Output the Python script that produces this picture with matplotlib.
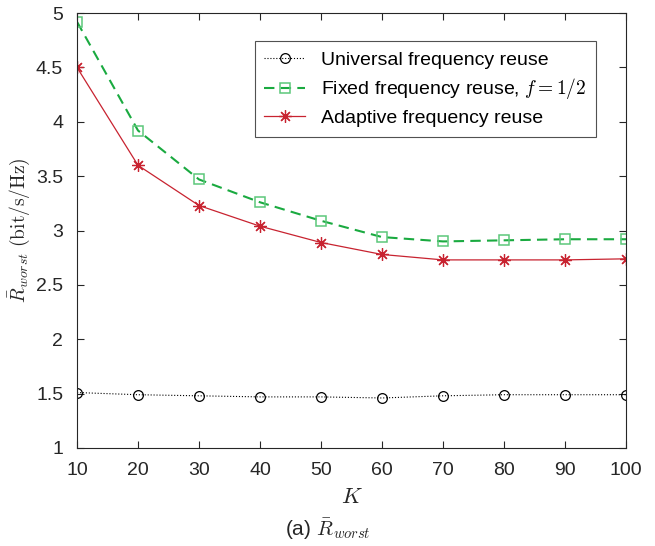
import matplotlib
matplotlib.use("Agg")
import matplotlib.pyplot as plt

K = [10, 20, 30, 40, 50, 60, 70, 80, 90, 100]
universal = [1.51, 1.49, 1.48, 1.47, 1.47, 1.46, 1.48, 1.49, 1.49, 1.49]
fixed = [4.92, 3.92, 3.47, 3.26, 3.09, 2.94, 2.90, 2.91, 2.92, 2.92]
adaptive = [4.50, 3.60, 3.23, 3.04, 2.89, 2.78, 2.73, 2.73, 2.73, 2.74]

plt.rcParams['font.family'] = ['Liberation Sans', 'DejaVu Sans']
plt.rcParams['mathtext.fontset'] = 'cm'

fig = plt.figure(figsize=(6.55, 5.46), dpi=100)
ax = fig.add_axes([0.1176, 0.1795, 0.8381, 0.7965])

ax.plot(K, universal, ':', color='black', lw=0.8, marker='o', ms=7,
        mfc='none', mew=0.9, label='Universal frequency reuse')
ax.plot(K, fixed, '--', color='#1aaa40', lw=1.5, dashes=(5, 3), marker='s', ms=7,
        mfc='none', mec='#5cc87a', mew=1.1, label='Fixed frequency reuse, $f = 1/2$')
ax.plot(K, adaptive, '-', color='#c82330', lw=0.9, marker=(8, 2, 0), ms=9,
        mfc='none', mew=0.9, label='Adaptive frequency reuse')

ax.set_xlim(10, 100)
ax.set_ylim(1, 5)
ax.set_xticks(K)
ax.set_yticks([1, 1.5, 2, 2.5, 3, 3.5, 4, 4.5, 5])
ax.set_yticklabels(['1', '1.5', '2', '2.5', '3', '3.5', '4', '4.5', '5'])
ax.tick_params(direction='in', top=True, right=True, labelsize=14,
               colors='#262626', length=5, pad=10)
for s in ax.spines.values():
    s.set_color('#262626')
    s.set_linewidth(0.8)

ax.set_xlabel('$K$', fontsize=16, color='#262626', labelpad=6)
ax.set_ylabel(r'$\bar{R}_{worst}\ \mathrm{(bit/s/Hz)}$', fontsize=14,
              color='#262626', labelpad=3)

leg = ax.legend(loc='upper right', bbox_to_anchor=(0.945, 0.935), fontsize=14,
                frameon=True, fancybox=False, borderpad=0.5, labelspacing=0.4,
                handlelength=2.1, handletextpad=0.8, borderaxespad=0)
leg.get_frame().set_edgecolor('#262626')
leg.get_frame().set_linewidth(0.8)

fig.text(0.5, 0.008, r'(a) $\bar{R}_{worst}$', ha='center', va='bottom',
         fontsize=15, color='#262626')

fig.savefig('out.png', dpi=100)
